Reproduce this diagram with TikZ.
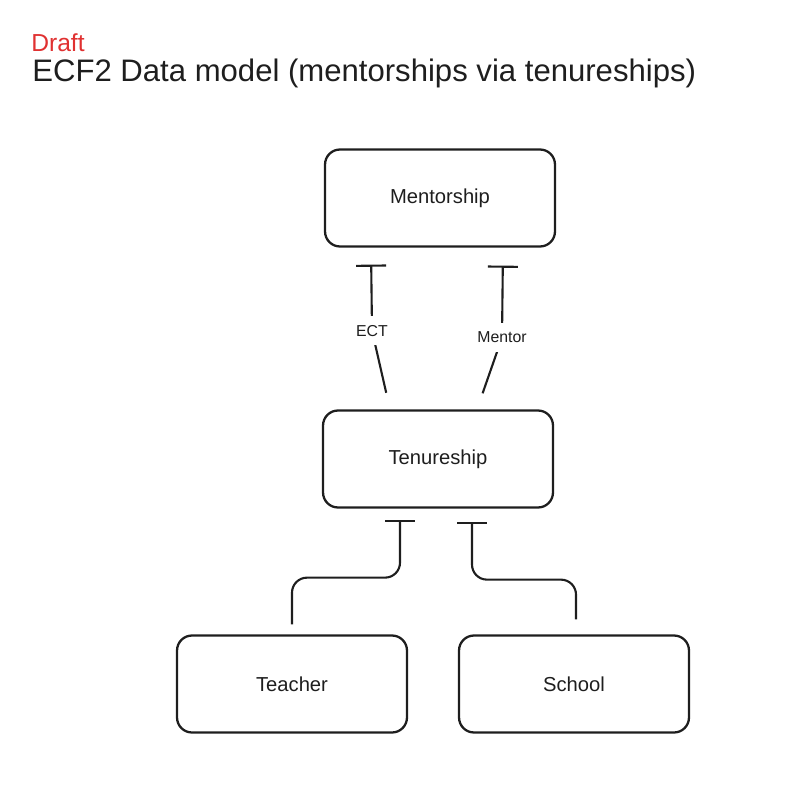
\documentclass[tikz,border=0pt]{standalone}
\usepackage{fontspec}
\setmainfont{Liberation Sans}
\usepackage{tikz}
\usetikzlibrary{arrows.meta, positioning, calc}
\definecolor{inkblack}{RGB}{30, 30, 30}
\definecolor{draftred}{RGB}{224, 49, 49}

\begin{document}
\begin{tikzpicture}[
  x=0.02cm, y=-0.02cm,
  every node/.style={font=\fontsize{11.5}{13}\selectfont, text=inkblack},
  entity/.style={draw=inkblack, rounded corners=0.3cm, minimum width=4.6cm, minimum height=1.94cm, line width=1.3pt},
  rel/.style={draw=inkblack, line width=1.2pt, -{Bar[width=6mm, line width=1.2pt]}},
  rellbl/.style={fill=white, font=\fontsize{9}{11}\selectfont, inner sep=5pt}
]
\useasboundingbox (0,0) rectangle (790,787);

% Title
\node[anchor=west, inner sep=0, text=draftred, font=\fontsize{14}{16}\selectfont] (draft) at (31,43) {Draft};
\node[anchor=west, inner sep=0, font=\fontsize{17.7}{20}\selectfont] (title) at (32,73) {ECF2 Data model (mentorships via tenureships)};

% Entities
\node[entity] (ment) at (440,198) {Mentorship};
\node[entity] (ten) at (438,459) {Tenureship};
\node[entity] (teach) at (292,684) {Teacher};
\node[entity] (school) at (574,684) {School};

% Tenureship -> Mentorship
\draw[rel, shorten <=0.34cm, shorten >=0.34cm] ($(ten.north)+(-48,0)$) -- ($(ment.south)+(-68,83)$) node[rellbl] (ect) {ECT} -- ($(ment.south)+(-69,0)$);
\draw[rel, shorten <=0.34cm, shorten >=0.36cm] ($(ten.north)+(39,0)$) -- ($(ment.south)+(62,90)$) node[rellbl] (mentor) {Mentor} -- ($(ment.south)+(63,0)$);

% Teacher / School -> Tenureship
\draw[rel, rounded corners=0.3cm, shorten <=0.2cm, shorten >=0.22cm] (teach.north) |- ($(ten.south)+(-38,69)$) -- ($(ten.south)+(-38,0)$);
\draw[rel, rounded corners=0.3cm, shorten <=0.3cm, shorten >=0.26cm] ($(school.north)+(2,0)$) |- ($(ten.south)+(34,71)$) -- ($(ten.south)+(34,0)$);

\end{tikzpicture}
\end{document}
